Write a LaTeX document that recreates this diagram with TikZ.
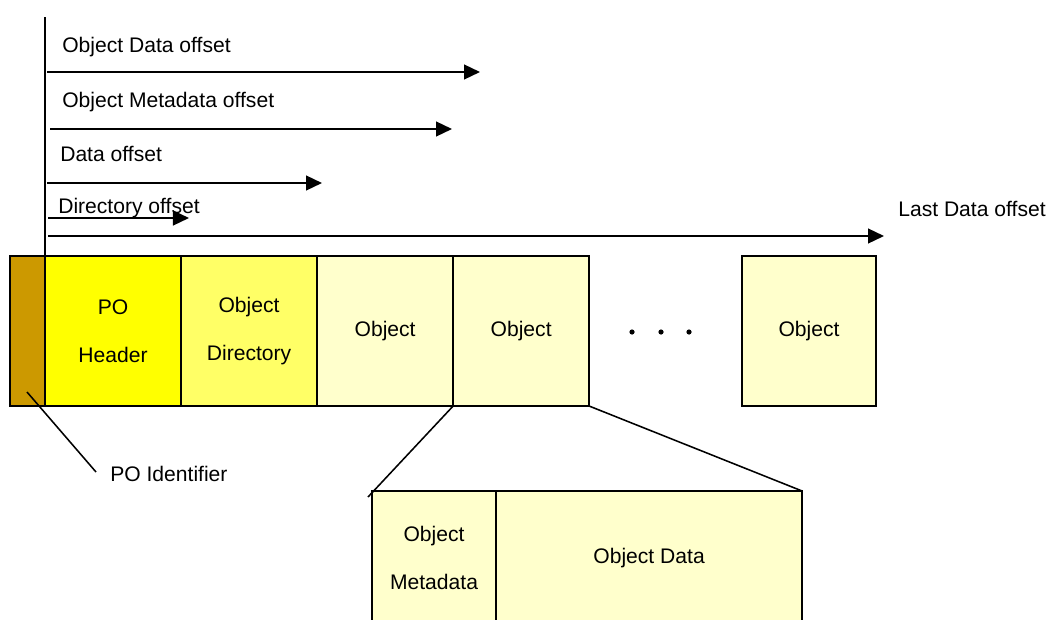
\documentclass[tikz,border=0pt]{standalone}
\usepackage{fontspec}
\setmainfont{Liberation Sans}
\usetikzlibrary{positioning,arrows.meta}
\definecolor{idbrown}{HTML}{CC9900}
\definecolor{hdryellow}{HTML}{FFFF00}
\definecolor{diryellow}{HTML}{FFFF66}
\definecolor{objyellow}{HTML}{FFFFCC}
\tikzset{
	blk/.style={draw, line width=1.3pt, minimum height=3.75cm, inner sep=0pt, outer sep=0pt, align=center, font=\fontsize{15}{34}\selectfont},
	offarrow/.style={line width=1.4pt, -{Triangle[length=0.4cm,width=0.37cm]}},
	lbl/.style={anchor=base west, inner sep=0pt, font=\fontsize{15}{18}\selectfont},
}
\begin{document}
\begin{tikzpicture}[x=0.025cm,y=-0.025cm]
			\useasboundingbox (0,0) rectangle (1051,619);
			\clip (0,0) rectangle (1051,619);
			% row of blocks
			\node[blk, fill=idbrown, minimum width=0.875cm, anchor=north west] (poid) at (10,256) {};
			\node[blk, fill=hdryellow, minimum width=3.4cm, right=0pt of poid] (hdr) {PO\\Header};
			\node[blk, fill=diryellow, minimum width=3.4cm, right=0pt of hdr] (dir) {Object\\Directory};
			\node[blk, fill=objyellow, minimum width=3.4cm, right=0pt of dir] (obja) {Object};
			\node[blk, fill=objyellow, minimum width=3.4cm, right=0pt of obja] (objb) {Object};
			\node[blk, fill=objyellow, minimum width=3.35cm, anchor=north west] (objn) at (742,256) {Object};
			\foreach \x in {632,661,689}
				\fill (\x,332) circle (2.6);
			% zoomed object
			\node[blk, fill=objyellow, minimum width=3.1cm, minimum height=3.35cm, anchor=north west] (meta) at (372,491) {Object\\Metadata};
			\node[blk, fill=objyellow, minimum width=7.65cm, minimum height=3.35cm, right=0pt of meta] (odata) {Object Data};
			\draw[line width=1.1pt] (objb.south west) -- ([xshift=-0.1cm,yshift=-0.15cm]meta.north west);
			\draw[line width=1.1pt] (objb.south east) -- (odata.north east);
			% PO identifier
			\node[lbl] (poidl) at (110,481) {PO Identifier};
			\coordinate (idpt) at (27,392);
			\coordinate (idend) at (96,472);
			\draw[line width=1.1pt] (idpt) -- (idend);
			% offsets
			\coordinate (zero) at (45,17);
			\draw[line width=1.3pt] (zero) -- (poid.north east);
			\coordinate (odo) at (47,72);
			\coordinate (odoe) at (480,72);
			\coordinate (omo) at (50,129);
			\coordinate (omoe) at (452,129);
			\coordinate (dao) at (47,183);
			\coordinate (daoe) at (322,183);
			\coordinate (dio) at (48,218);
			\coordinate (dioe) at (189,218);
			\coordinate (ldo) at (48,236);
			\coordinate (ldoe) at (884,236);
			\draw[offarrow] (odo) -- (odoe);
			\draw[offarrow] (omo) -- (omoe);
			\draw[offarrow] (dao) -- (daoe);
			\draw[offarrow] (dio) -- (dioe);
			\draw[offarrow] (ldo) -- (ldoe);
			\node[lbl] (odol) at (62,52) {Object Data offset};
			\node[lbl] (omol) at (62,107) {Object Metadata offset};
			\node[lbl] (daol) at (60,161) {Data offset};
			\node[lbl] (diol) at (58,213) {Directory offset};
			\node[lbl] (ldol) at (898,216) {Last Data offset};
		\end{tikzpicture}
\end{document}
